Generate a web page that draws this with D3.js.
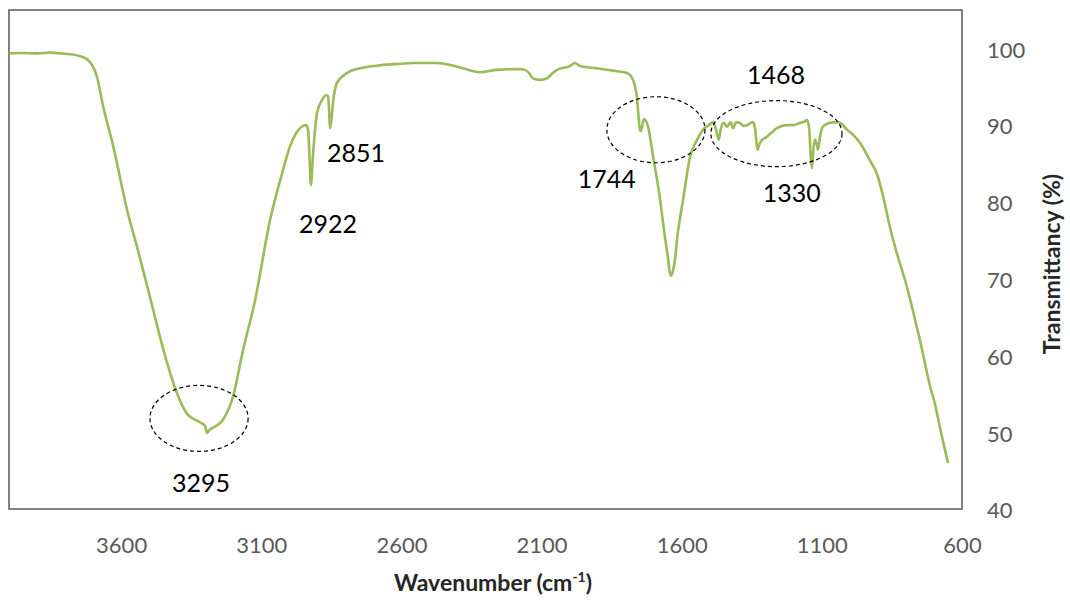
<!DOCTYPE html>
<html>
<head>
<meta charset="utf-8">
<script src="https://cdn.jsdelivr.net/npm/d3@7"></script>
<style>
  html, body { margin: 0; padding: 0; background: #fff; }
  svg { display: block; font-family: Lato, "Open Sans", sans-serif; }
</style>
</head>
<body>
<svg id="chart" width="1070" height="601"></svg>
<script>
// FTIR spectrum: wavenumber (cm-1) vs transmittance (%)
const wavenumbers = [
  4000, 3950, 3900, 3854, 3800, 3772, 3740, 3722, 3700, 3686, 3665, 3629, 3579, 3540,
  3497, 3451, 3401, 3365, 3319, 3300, 3294, 3285, 3272, 3237, 3201, 3165, 3122, 3069,
  3022, 2998, 2973, 2951, 2940, 2933, 2928, 2923, 2915, 2901, 2883, 2868, 2862, 2858,
  2855, 2849, 2844, 2830, 2794, 2748, 2676, 2600, 2559, 2473, 2420, 2380, 2320, 2259,
  2177, 2159, 2145, 2131, 2106, 2081, 2060, 2045, 1999, 1981, 1963, 1902, 1845, 1795,
  1774, 1760, 1749, 1746, 1735, 1720, 1702, 1677, 1662, 1650, 1640, 1632, 1624, 1617,
  1595, 1570, 1545, 1524, 1500, 1488, 1478, 1468, 1460, 1450, 1438, 1425, 1417, 1405,
  1392, 1380, 1367, 1346, 1338, 1330, 1321, 1296, 1280, 1260, 1224, 1203, 1178, 1160,
  1153, 1145, 1140, 1135, 1130, 1124, 1118, 1114, 1105, 1096, 1071, 1046, 1030, 1010,
  990, 964, 930, 903, 880, 857, 830, 803, 775, 750, 714, 696, 678, 650
];
const transmittance = [
  99.35, 99.4, 99.35, 99.45, 99.3, 99.2, 98.9, 98.6, 97.6, 96.3, 92.6, 87.4, 79.0, 73.7,
  67.6, 61.0, 55.1, 52.4, 51.3, 50.8, 49.9, 50.3, 50.6, 51.6, 54.6, 60.7, 67.2, 77.6,
  84.2, 87.2, 89.1, 89.9, 90.0, 89.4, 86.0, 82.2, 86.4, 91.6, 93.3, 93.9, 93.8, 92.0,
  89.6, 91.0, 92.9, 95.5, 96.8, 97.4, 97.8, 98.0, 98.1, 98.1, 97.8, 97.4, 96.9, 97.2,
  97.3, 97.2, 96.8, 96.1, 95.9, 96.1, 96.8, 97.2, 97.7, 98.1, 97.7, 97.4, 97.1, 96.8,
  95.9, 93.7, 89.4, 89.2, 90.8, 89.8, 85.9, 80.3, 76.0, 73.0, 70.4, 70.9, 72.5, 75.0,
  80.3, 85.9, 88.1, 89.4, 90.1, 90.4, 89.5, 88.1, 89.6, 90.3, 89.8, 90.4, 89.6, 90.4,
  90.3, 89.9, 90.0, 90.4, 89.5, 86.8, 87.7, 88.5, 89.0, 89.6, 90.0, 90.0, 90.3, 90.5,
  90.7, 89.5, 86.0, 84.4, 87.0, 88.1, 87.5, 86.8, 88.8, 89.8, 90.3, 90.4, 90.2, 89.4,
  88.8, 87.7, 85.5, 83.6, 80.5, 76.7, 73.0, 69.8, 65.8, 62.0, 56.0, 53.6, 50.5, 46.0
];

const xTicks = [3600, 3100, 2600, 2100, 1600, 1100, 600];
const yTicks = [40, 50, 60, 70, 80, 90, 100];

// Marked absorption bands and the label anchor (wavenumber, transmittance at baseline)
const peakLabels = ["3295", "2922", "2851", "1744", "1468", "1330"];
const peakLabelWn = [3315, 2862, 2762, 1867, 1264, 1207];
const peakLabelT = [42.2, 76.0, 85.2, 81.8, 95.4, 80.0];

// Dashed ellipses around band groups: centre (wavenumber, %) and radii (cm-1, %)
const ringWn = [3322, 1692, 1262];
const ringT = [51.8, 89.4, 88.9];
const ringRWn = [175, 175, 234];
const ringRT = [4.3, 4.3, 4.3];

const svg = d3.select("#chart");
const plot = { left: 9, right: 962, top: 10, bottom: 509 };

const x = d3.scaleLinear().domain([4000, 600]).range([plot.left, plot.right]);
const y = d3.scaleLinear().domain([40, 105]).range([plot.bottom, plot.top]);

// Plot frame
svg.append("rect")
  .attr("x", plot.left).attr("y", plot.top)
  .attr("width", plot.right - plot.left).attr("height", plot.bottom - plot.top)
  .attr("fill", "none").attr("stroke", "#595959").attr("stroke-width", 1.5);

// Bottom axis
const xAxis = svg.append("g")
  .attr("transform", `translate(0,${plot.bottom})`)
  .call(d3.axisBottom(x).tickValues(xTicks).tickSize(0).tickPadding(28).tickFormat(d3.format("d")));
xAxis.select(".domain").remove();
xAxis.selectAll("text").attr("font-size", 22).attr("fill", "#595959")
  .attr("font-family", "Lato, 'Open Sans', sans-serif");

// Right axis
const yAxis = svg.append("g")
  .attr("transform", `translate(${plot.right},0)`)
  .call(d3.axisRight(y).tickValues(yTicks).tickSize(0).tickPadding(25).tickFormat(d3.format("d")));
yAxis.select(".domain").remove();
yAxis.selectAll("text").attr("font-size", 22).attr("fill", "#595959")
  .attr("font-family", "Lato, 'Open Sans', sans-serif").attr("dy", "0.4em");

// Spectrum trace
const pts = wavenumbers.map((w, i) => [w, transmittance[i]]);
svg.append("path")
  .datum(pts)
  .attr("fill", "none")
  .attr("stroke", "#9BBB59")
  .attr("stroke-width", 2.6)
  .attr("stroke-linejoin", "round")
  .attr("d", d3.line().curve(d3.curveMonotoneX).x(d => x(d[0])).y(d => y(d[1])));

// Dashed ellipses
svg.selectAll("ellipse.ring")
  .data(ringWn.map((w, i) => i))
  .join("ellipse")
  .attr("class", "ring")
  .attr("cx", i => x(ringWn[i]))
  .attr("cy", i => y(ringT[i]))
  .attr("rx", i => Math.abs(x(ringWn[i] + ringRWn[i]) - x(ringWn[i])))
  .attr("ry", i => Math.abs(y(ringT[i] + ringRT[i]) - y(ringT[i])))
  .attr("fill", "none")
  .attr("stroke", "#000")
  .attr("stroke-width", 1.2)
  .attr("stroke-dasharray", "4,3");

// Band labels
svg.selectAll("text.peak")
  .data(peakLabels)
  .join("text")
  .attr("class", "peak")
  .attr("x", (d, i) => x(peakLabelWn[i]))
  .attr("y", (d, i) => y(peakLabelT[i]))
  .attr("text-anchor", "middle")
  .attr("font-size", 25)
  .attr("fill", "#000")
  .text(d => d);

// Axis titles
const xt = svg.append("text")
  .attr("x", 493)
  .attr("y", 591)
  .attr("text-anchor", "middle")
  .attr("font-size", 23)
  .attr("font-weight", "bold")
  .attr("fill", "#262626");
xt.append("tspan").text("Wavenumber (cm");
xt.append("tspan").attr("font-size", 14).attr("dy", -9).text("-1");
xt.append("tspan").attr("dy", 9).text(")");

svg.append("text")
  .attr("transform", `translate(1060,264) rotate(-90)`)
  .attr("text-anchor", "middle")
  .attr("font-size", 23)
  .attr("font-weight", "bold")
  .attr("fill", "#262626")
  .text("Transmittancy (%)");
</script>
</body>
</html>
